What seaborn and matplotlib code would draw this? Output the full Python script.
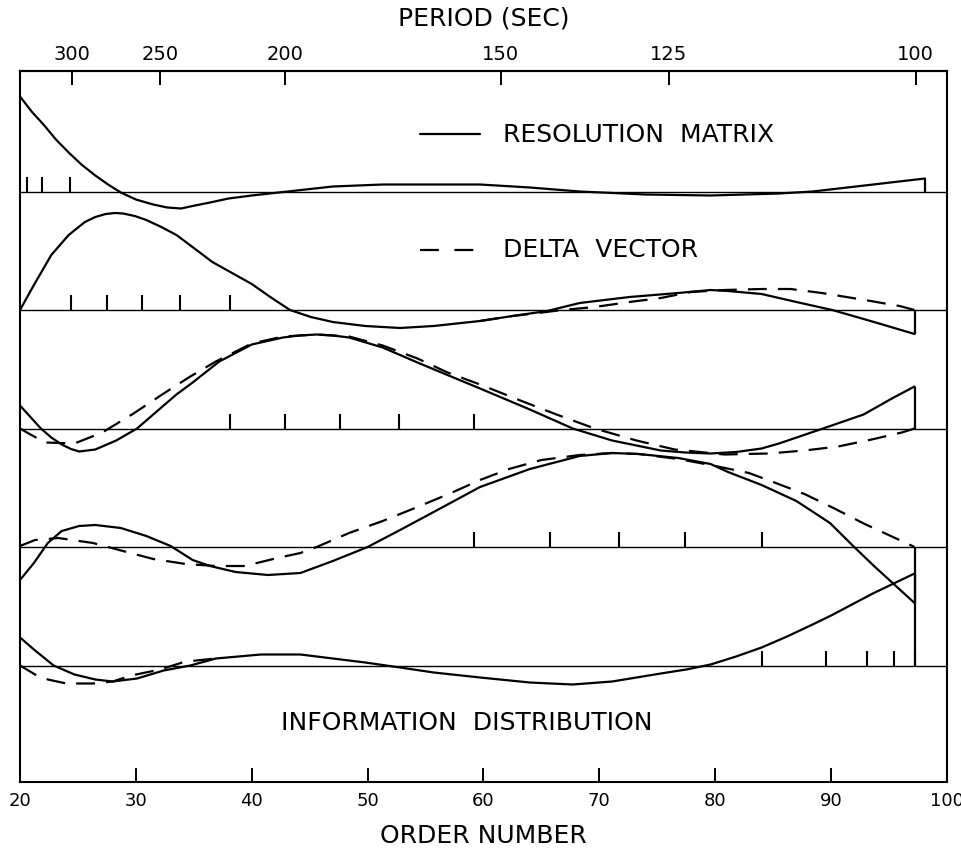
import numpy as np
import matplotlib
matplotlib.use("Agg")
import matplotlib.pyplot as plt
import seaborn as sns

# ---- data: order number (x) and amplitude offsets from each baseline ----
# Trace 1 (top) - resolution matrix row only
t1_n = [20.0, 21.0, 22.1, 23.1, 24.2, 25.3, 26.5, 27.6, 28.7, 30.0, 31.5, 32.7, 33.9, 35.1,
        36.4, 38.0, 40.0, 43.1, 47.0, 51.3, 55.7, 59.7, 64.0, 68.3, 74.0, 79.6, 85.5, 88.4,
        91.4, 98.1]
t1_res = [95, 80, 66, 52, 39, 27, 16, 7, -1, -8, -13, -16, -17, -14, -11, -7, -4, 0, 5, 7,
          7, 7, 4, 0, -3, -4, -2, 0, 4, 13]

# Trace 2
t2_n = [20.0, 21.2, 22.7, 24.2, 25.6, 26.5, 27.4, 28.2, 28.9, 29.9, 30.9, 32.2, 33.5, 35.0,
        36.6, 38.3, 40.0, 41.6, 43.3, 45.1, 47.0, 49.8, 52.8, 55.7, 59.7, 62.5, 65.5, 68.3,
        72.6, 76.8, 79.6, 81.1, 84.0, 87.0, 90.1, 93.7, 97.2]
t2_res = [0, 25, 55, 75, 88, 93, 96, 97, 96.5, 94, 90, 83, 75, 62, 48, 37, 26, 13, 0, -7,
          -12, -16, -18, -16, -11, -6, -1, 7, 13, 17, 20, 19, 16, 8, 0, -12, -24]
t2d_n = [59.7, 62.5, 64.0, 66.8, 69.6, 72.6, 75.3, 77.9, 80.8, 84.0, 86.5, 89.2, 92.9, 95.9, 97.2]
t2_del = [-11, -6, -4, 0, 3, 8, 12, 18, 20, 21, 21, 17, 10, 4, 0]

# Trace 3
t3_n = [20.0, 21.8, 22.7, 23.6, 24.4, 25.1, 26.5, 27.3, 28.3, 29.2, 30.1, 31.0, 31.9, 33.5,
        34.9, 37.2, 40.0, 42.7, 44.1, 45.6, 47.0, 48.4, 51.3, 54.3, 57.2, 59.7, 64.0, 67.7,
        71.1, 75.3, 77.4, 79.6, 81.8, 84.0, 85.5, 89.3, 92.8, 95.4, 97.2]
t3_res = [23, 0, -9, -16, -20.5, -23, -21, -17, -12, -6, 0, 9, 18, 34, 46, 67, 84, 91, 93,
          94, 93, 91, 81, 66, 52, 40, 19, 0, -12, -22, -24, -25, -23.5, -20, -15, 0, 14, 31, 42]
t3d_n = [20.0, 20.9, 22.2, 24.7, 27.1, 29.8, 32.4, 34.7, 36.9, 40.0, 42.7, 45.6, 48.4, 51.3,
         54.3, 56.9, 59.7, 63.4, 66.3, 69.6, 73.2, 76.5, 80.8, 84.6, 87.7, 90.6, 93.5, 96.1, 97.2]
t3_del = [0, -6, -14, -15, -4, 15, 35, 52, 67, 85, 92, 94, 92, 83, 70, 56, 44, 27, 14, 0,
          -12, -21, -26, -25, -22, -18, -11, -4, 0]

# Trace 4
t4_n = [20.0, 21.2, 22.4, 23.6, 25.1, 26.5, 28.7, 30.9, 33.0, 34.9, 36.4, 38.6, 41.4, 44.2,
        47.0, 50.0, 52.8, 55.7, 59.7, 64.0, 68.3, 71.1, 73.4, 76.8, 79.6, 81.1, 84.0, 87.0,
        89.9, 91.9, 93.7, 95.4, 97.2]
t4_res = [-33, -16, 4, 16, 21, 22, 19, 11, 1, -13, -19, -25, -28, -26, -14, 0, 17, 35, 60,
          78, 91, 94, 93, 89, 83, 75, 62, 46, 24, 1, -19, -37, -56]
t4d_n = [20.0, 21.3, 23.3, 26.3, 29.2, 31.5, 34.3, 36.9, 39.4, 42.2, 44.2, 45.6, 48.4, 51.3,
         54.3, 57.2, 59.7, 62.2, 65.0, 68.3, 71.1, 73.4, 76.8, 79.6, 82.9, 85.0, 87.7, 90.2,
         92.9, 95.9, 97.2]
t4_del = [1, 7, 9, 4, -5, -12, -17, -19, -19, -11, -6, 0, 14, 26, 40, 54, 67, 78, 87, 92, 94,
          93, 88, 82, 74, 65, 53, 39, 23, 7, 0]

# Trace 5 (bottom)
t5_n = [20.0, 21.2, 22.9, 24.7, 26.5, 28.0, 30.1, 32.4, 34.7, 36.9, 40.8, 44.2, 47.0, 49.8,
        52.8, 55.7, 59.7, 64.0, 67.7, 71.1, 75.3, 77.5, 79.6, 81.8, 84.0, 86.2, 88.4, 90.0,
        91.8, 93.6, 95.4, 97.2]
t5_res = [28, 16, 0, -9, -14, -16, -13, -5, 0, 7, 11, 11, 7, 3, -2, -7, -12, -17, -19, -16,
          -8, -4, 1, 9, 18, 29, 41, 50, 61, 72, 82, 92]
t5d_n = [20.0, 21.3, 22.4, 24.0, 26.3, 28.0, 29.6, 32.1, 34.0, 35.2, 36.9]
t5_del = [0, -9, -14, -18, -18, -16, -10, -4, 3, 5, 7]

# sample positions marked on each baseline
ticks1 = [20.6, 21.9, 24.3]
ticks2 = [24.4, 27.5, 30.5, 33.8, 38.1]
ticks3 = [38.1, 42.9, 47.6, 52.7, 59.2]
ticks4 = [59.2, 65.7, 71.7, 77.4, 84.0]
ticks5 = [84.0, 89.6, 93.1, 95.4, 97.2]

# axes ticks
order_ticks = [20, 30, 40, 50, 60, 70, 80, 90, 100]
period_pos = [24.5, 32.1, 42.9, 61.5, 76.0, 97.3]
period_labels = ["300", "250", "200", "150", "125", "100"]

# ---- drawing ----
sns.set_theme(style="white")
plt.rcParams["font.family"] = ["DejaVu Sans"]
plt.rcParams["axes.edgecolor"] = "black"

fig = plt.figure(figsize=(9.62, 8.5), dpi=100)
ax = fig.add_axes([20 / 962, 1 - 782 / 850, 927 / 962, 711 / 850])
SPACING = 118.5
ax.set_xlim(20, 100)
ax.set_ylim(-116.5, 594.5)

traces = [
    (t1_n, t1_res, None, None, ticks1),
    (t2_n, t2_res, t2d_n, t2_del, ticks2),
    (t3_n, t3_res, t3d_n, t3_del, ticks3),
    (t4_n, t4_res, t4d_n, t4_del, ticks4),
    (t5_n, t5_res, t5d_n, t5_del, ticks5),
]

LW = 1.6
DASH = (0, (8.5, 5))
for k, (n, res, dn, dv, tk) in enumerate(traces):
    base = (4 - k) * SPACING
    ax.axhline(base, color="black", lw=1.0, zorder=1)
    sns.lineplot(x=n, y=np.asarray(res, float) + base, ax=ax, color="black", lw=LW,
                 estimator=None, sort=False, zorder=3)
    if dn is not None:
        sns.lineplot(x=dn, y=np.asarray(dv, float) + base, ax=ax, color="black", lw=LW,
                     estimator=None, sort=False, linestyle=DASH, zorder=3)
    ax.vlines(tk, base, base + 15, color="black", lw=1.5, zorder=2)
    ax.vlines(n[-1], base, base + res[-1], color="black", lw=LW, zorder=3)

# bottom axis
ax.set_xticks(order_ticks)
ax.set_xticklabels([str(v) for v in order_ticks])
ax.set_yticks([])
ax.tick_params(axis="x", direction="in", length=10, width=1.4, bottom=True, top=False,
               labelsize=13, pad=7, colors="black")
for s in ax.spines.values():
    s.set_linewidth(1.5)
    s.set_color("black")
ax.set_xlabel("ORDER NUMBER", fontsize=18, labelpad=10, color="black")

# top axis: period in seconds
sec = ax.secondary_xaxis("top")
sec.set_xticks(period_pos)
sec.set_xticklabels(period_labels)
sec.tick_params(direction="in", length=10, width=1.4, labelsize=14, pad=5, colors="black")
sec.spines["top"].set_linewidth(1.5)
sec.set_xlabel("PERIOD (SEC)", fontsize=18, labelpad=14, color="black")

# key and annotation
ax.plot([0.4315, 0.496], [0.912, 0.912], transform=ax.transAxes, color="black", lw=LW)
ax.text(0.521, 0.910, "RESOLUTION  MATRIX", transform=ax.transAxes, fontsize=18,
        ha="left", va="center", color="black")
ax.plot([0.4315, 0.496], [0.748, 0.748], transform=ax.transAxes, color="black", lw=LW,
        linestyle=(0, (8.5, 7)))
ax.text(0.521, 0.748, "DELTA  VECTOR", transform=ax.transAxes, fontsize=18,
        ha="left", va="center", color="black")
ax.text(0.482, 0.083, "INFORMATION  DISTRIBUTION", transform=ax.transAxes, fontsize=18,
        ha="center", va="center", color="black")

fig.savefig("out.png", dpi=100, facecolor="white")
